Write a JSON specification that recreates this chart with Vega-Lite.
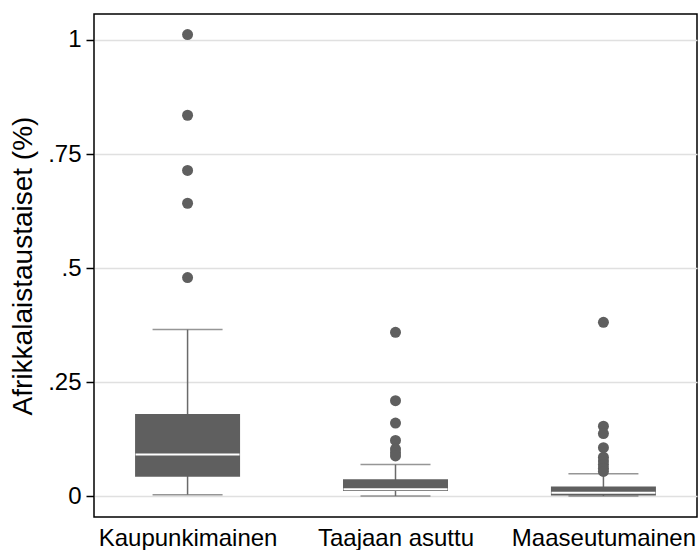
{
  "$schema": "https://vega.github.io/schema/vega-lite/v6.json",
  "width": 603,
  "height": 503,
  "autosize": {"type": "none"},
  "padding": {"left": 94, "top": 14, "right": 3, "bottom": 33},
  "background": "white",
  "config": {
    "view": {"stroke": "black", "strokeWidth": 1.5},
    "font": "Liberation Sans"
  },
  "datasets": {
    "stats": [
      {"alue": "Kaupunkimainen", "lower": 0.003, "q1": 0.042, "median": 0.091, "q3": 0.180, "upper": 0.365},
      {"alue": "Taajaan asuttu", "lower": 0.0, "q1": 0.011, "median": 0.015, "q3": 0.037, "upper": 0.069},
      {"alue": "Maaseutumainen", "lower": 0.0, "q1": 0.001, "median": 0.007, "q3": 0.021, "upper": 0.049}
    ],
    "outliers": [
      {"alue": "Kaupunkimainen", "value": 1.012},
      {"alue": "Kaupunkimainen", "value": 0.835},
      {"alue": "Kaupunkimainen", "value": 0.714},
      {"alue": "Kaupunkimainen", "value": 0.642},
      {"alue": "Kaupunkimainen", "value": 0.479},
      {"alue": "Taajaan asuttu", "value": 0.359},
      {"alue": "Taajaan asuttu", "value": 0.209},
      {"alue": "Taajaan asuttu", "value": 0.160},
      {"alue": "Taajaan asuttu", "value": 0.122},
      {"alue": "Taajaan asuttu", "value": 0.103},
      {"alue": "Taajaan asuttu", "value": 0.095},
      {"alue": "Taajaan asuttu", "value": 0.088},
      {"alue": "Maaseutumainen", "value": 0.381},
      {"alue": "Maaseutumainen", "value": 0.153},
      {"alue": "Maaseutumainen", "value": 0.137},
      {"alue": "Maaseutumainen", "value": 0.106},
      {"alue": "Maaseutumainen", "value": 0.085},
      {"alue": "Maaseutumainen", "value": 0.077},
      {"alue": "Maaseutumainen", "value": 0.069},
      {"alue": "Maaseutumainen", "value": 0.061},
      {"alue": "Maaseutumainen", "value": 0.054}
    ]
  },
  "encoding": {
    "x": {
      "field": "alue",
      "type": "nominal",
      "sort": ["Kaupunkimainen", "Taajaan asuttu", "Maaseutumainen"],
      "scale": {"type": "point", "padding": 0.45},
      "axis": {
        "title": null,
        "labelAngle": 0,
        "labelFontSize": 24,
        "labelColor": "black",
        "labelPadding": 9,
        "labelLimit": 0,
        "labelOverlap": false,
        "labelBound": false,
        "ticks": false,
        "domain": false,
        "grid": false
      }
    }
  },
  "layer": [
    {
      "data": {"name": "stats"},
      "mark": {"type": "rule", "color": "#6a6a6a", "strokeWidth": 1.5},
      "encoding": {
        "y": {
          "field": "lower",
          "type": "quantitative",
          "scale": {"domain": [-0.046, 1.057], "nice": false, "zero": false},
          "axis": {
            "title": "Afrikkalaistaustaiset (%)",
            "titleFontSize": 28,
            "titleFontWeight": "normal",
            "titleColor": "black",
            "titlePadding": 10,
            "values": [0, 0.25, 0.5, 0.75, 1],
            "labelExpr": "datum.value == 0 ? '0' : datum.value == 1 ? '1' : replace(format(datum.value, '.2~f'), '0.', '.')",
            "labelFontSize": 24,
            "labelColor": "black",
            "labelPadding": 5,
            "tickSize": 8,
            "tickColor": "black",
            "tickWidth": 1.5,
            "domain": false,
            "grid": true,
            "gridColor": "#e0e0e0",
            "gridWidth": 1.5
          }
        },
        "y2": {"field": "upper"}
      }
    },
    {
      "data": {"name": "stats"},
      "mark": {"type": "tick", "color": "#6a6a6a", "size": 70, "thickness": 1.5, "orient": "horizontal"},
      "encoding": {"y": {"field": "upper", "type": "quantitative"}}
    },
    {
      "data": {"name": "stats"},
      "mark": {"type": "tick", "color": "#6a6a6a", "size": 70, "thickness": 1.5, "orient": "horizontal"},
      "encoding": {"y": {"field": "lower", "type": "quantitative"}}
    },
    {
      "data": {"name": "stats"},
      "mark": {"type": "bar", "color": "#5f5f5f", "size": 105},
      "encoding": {
        "y": {"field": "q1", "type": "quantitative"},
        "y2": {"field": "q3"}
      }
    },
    {
      "data": {"name": "stats"},
      "mark": {"type": "tick", "color": "white", "size": 104, "thickness": 2, "orient": "horizontal", "opacity": 1},
      "encoding": {"y": {"field": "median", "type": "quantitative"}}
    },
    {
      "data": {"name": "outliers"},
      "mark": {"type": "circle", "color": "#5f5f5f", "size": 121, "opacity": 1},
      "encoding": {"y": {"field": "value", "type": "quantitative"}}
    }
  ]
}
